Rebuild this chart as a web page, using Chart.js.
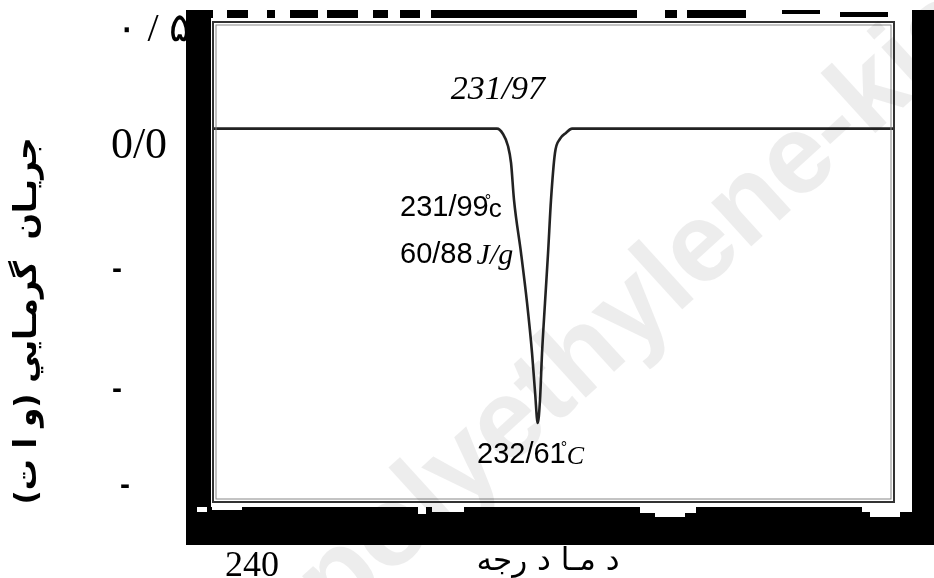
<!DOCTYPE html>
<html>
<head>
<meta charset="utf-8">
<script src="https://cdn.jsdelivr.net/npm/chart.js@4.4.1/dist/chart.umd.min.js"></script>
<style>
  html, body { margin: 0; padding: 0; background: #fff; }
  #wrap { width: 934px; height: 578px; }
</style>
</head>
<body>
<div id="wrap"><canvas id="dscChart" width="934" height="578"></canvas></div>
<script>
// DSC melting curve
const temperatureC = [204, 229.02, 229.55, 229.99, 230.26, 230.52, 231.14, 231.67, 232.11, 232.38, 232.61,
                      232.81, 232.99, 233.25, 233.52, 233.78, 234.13, 234.57, 235.10, 235.63, 264];
const heatFlowW = [0, 0, -0.025, -0.081, -0.161, -0.334, -0.583, -0.817, -1.052, -1.239, -1.380,
                   -1.272, -1.052, -0.817, -0.583, -0.334, -0.114, -0.048, -0.020, 0, 0];

const yTickLabels = ['۰ / ۵', '0/0', '-', '-', '-'];
const xTickLabel = '240';
const xTitle = 'د مـا د رجه';
const yTitle = 'جريـان  گرمـايي (و ا ت)';
const onsetTop = '231/97';
const onsetLabel = '231/99';
const enthalpyLabel = '60/88';
const peakLabel = '232/61';
const watermark = 'polyethylene-kish';

const points = temperatureC.map((t, i) => ({ x: t, y: heatFlowW[i] }));

// black scanner border around the plot
const scanFrame = {
  id: 'scanFrame',
  beforeDraw(chart) {
    const ctx = chart.ctx;
    ctx.save();
    ctx.fillStyle = '#fff';
    ctx.fillRect(0, 0, chart.width, chart.height);
    ctx.fillStyle = '#000';
    ctx.fillRect(186, 10, 25, 535);   // left
    ctx.fillRect(912, 10, 22, 535);   // right
    ctx.fillRect(186, 507, 748, 38);  // bottom
    const topBits = [[186, 213], [227, 248], [267, 275], [290, 318], [327, 358], [373, 388],
                     [400, 420], [431, 637], [665, 677], [687, 746]];
    topBits.forEach(b => ctx.fillRect(b[0], 10, b[1] - b[0], 8));
    ctx.fillRect(782, 10, 38, 4);
    ctx.fillRect(840, 12, 48, 5);
    // white specks where the old tick labels survived
    ctx.fillStyle = '#fff';
    [[197, 507, 10, 5], [212, 507, 30, 3], [418, 507, 8, 7], [432, 507, 32, 5],
     [640, 507, 56, 6], [655, 513, 30, 4], [862, 490, 50, 22], [870, 512, 30, 5],
     [906, 30, 6, 440]].forEach(r => ctx.fillRect(r[0], r[1], r[2], r[3]));
    ctx.restore();
  },
  afterDraw(chart) {
    const ctx = chart.ctx;
    const a = chart.chartArea;
    const xs = chart.scales.x, ys = chart.scales.y;
    ctx.save();
    // double box line
    ctx.strokeStyle = '#333';
    ctx.lineWidth = 2;
    ctx.strokeRect(a.left, a.top, a.right - a.left, a.bottom - a.top);
    ctx.strokeStyle = '#888';
    ctx.lineWidth = 1;
    ctx.strokeRect(a.left + 3, a.top + 3, a.right - a.left - 6, a.bottom - a.top - 6);

    ctx.fillStyle = '#000';
    ctx.textBaseline = 'middle';

    // y tick labels
    ctx.textAlign = 'center';
    ctx.font = '40px "Liberation Serif", serif';
    ctx.fillText(yTickLabels[0], 153, 30);
    ctx.font = '44px "Liberation Serif", serif';
    ctx.fillText(yTickLabels[1], 139, 146);
    ctx.font = 'bold 30px "Liberation Sans", sans-serif';
    ctx.fillText(yTickLabels[2], 117, 270);
    ctx.fillText(yTickLabels[3], 117, 390);
    ctx.fillText(yTickLabels[4], 125, 486);

    // y title
    ctx.save();
    ctx.translate(28, 321);
    ctx.rotate(-Math.PI / 2);
    ctx.font = 'bold 31px "DejaVu Sans", sans-serif';
    ctx.fillText(yTitle, 0, 0);
    ctx.restore();

    // x title and the stray tick label
    ctx.font = '31px "DejaVu Sans", sans-serif';
    ctx.fillText(xTitle, 548, 562);
    ctx.textBaseline = 'top';
    ctx.font = '36px "Liberation Serif", serif';
    ctx.fillText(xTickLabel, 252, 549);

    // annotations
    ctx.textBaseline = 'middle';
    ctx.font = 'italic 34px "Liberation Serif", serif';
    ctx.fillText(onsetTop, xs.getPixelForValue(229.1), ys.getPixelForValue(0.18));

    ctx.textAlign = 'left';
    const sans = '29px "Liberation Sans", sans-serif';
    let x0 = 400;
    ctx.font = sans;
    ctx.fillText(onsetLabel, x0, 208);
    let w = ctx.measureText(onsetLabel).width;
    ctx.font = '16px "Liberation Sans", sans-serif';
    ctx.fillText('°', x0 + w - 4, 202);
    ctx.font = '26px "Liberation Sans", sans-serif';
    ctx.fillText('c', x0 + w, 210);

    ctx.font = sans;
    ctx.fillText(enthalpyLabel, x0, 255);
    w = ctx.measureText(enthalpyLabel).width;
    ctx.font = 'italic 30px "Liberation Serif", serif';
    ctx.fillText('J/g', x0 + w + 4, 256);

    x0 = 477;
    ctx.font = sans;
    ctx.fillText(peakLabel, x0, 455);
    w = ctx.measureText(peakLabel).width;
    ctx.font = '16px "Liberation Sans", sans-serif';
    ctx.fillText('°', x0 + w - 5, 449);
    ctx.font = 'italic 26px "Liberation Serif", serif';
    ctx.fillText('C', x0 + w + 1, 457);

    // faint diagonal watermark
    ctx.globalCompositeOperation = 'multiply';
    ctx.translate(835, 128);
    ctx.rotate(-0.74);
    ctx.font = 'bold 112px "Liberation Sans", sans-serif';
    ctx.fillStyle = '#ededed';
    ctx.textAlign = 'left';
    const lead = ctx.measureText('polyethylene').width + ctx.measureText('-').width / 2;
    ctx.fillText(watermark, -lead, 0);
    ctx.restore();
  }
};

new Chart(document.getElementById('dscChart'), {
  type: 'line',
  data: {
    datasets: [{
      data: points,
      borderColor: '#222',
      borderWidth: 2.6,
      pointRadius: 0,
      fill: false,
      cubicInterpolationMode: 'monotone'
    }]
  },
  options: {
    responsive: false,
    animation: false,
    layout: { padding: { left: 213, top: 22, right: 40, bottom: 76 } },
    plugins: { legend: { display: false }, tooltip: { enabled: false } },
    scales: {
      x: { type: 'linear', display: false, min: 204, max: 264 },
      y: { display: false, min: -1.75, max: 0.5 }
    }
  },
  plugins: [scanFrame]
});
</script>
</body>
</html>
